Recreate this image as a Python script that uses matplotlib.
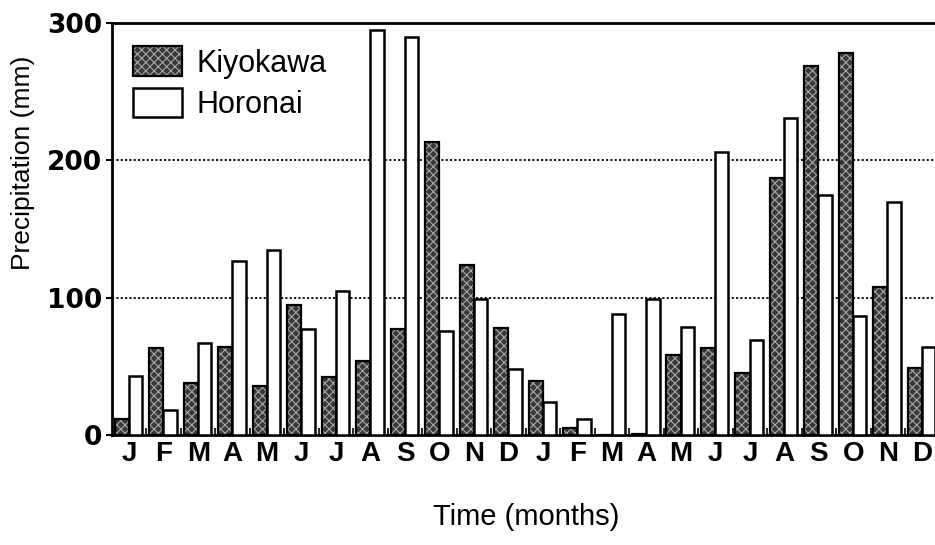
import numpy as np
import matplotlib
matplotlib.use("Agg")
import matplotlib.pyplot as plt
from matplotlib.patches import Patch
from matplotlib.legend_handler import HandlerTuple

# monthly precipitation (mm), two years
months = ['J', 'F', 'M', 'A', 'M', 'J', 'J', 'A', 'S', 'O', 'N', 'D',
          'J', 'F', 'M', 'A', 'M', 'J', 'J', 'A', 'S', 'O', 'N', 'D']
kiyokawa = [12, 63, 38, 64, 36, 95, 42, 54, 77, 213, 124, 78,
            39, 5, 0, 1, 58, 63, 45, 187, 269, 278, 108, 49]
horonai = [43, 18, 67, 127, 135, 77, 105, 295, 290, 76, 99, 48,
           24, 12, 88, 99, 79, 206, 69, 231, 175, 87, 170, 64]
yticks = [0, 100, 200, 300]

plt.rcParams['font.family'] = ['Liberation Sans', 'DejaVu Sans']
plt.rcParams['hatch.linewidth'] = 0.8

fig = plt.figure(figsize=(9.35, 5.45), dpi=100)
ax = fig.add_axes([0.1198, 0.2018, 0.885, 0.756])

x = np.arange(len(months))
dark = '#383838'
speck = '#a8a8a8'

# dark hatched bars: texture first, black outline on top
ax.bar(x + 0.08, kiyokawa, width=0.41, align='edge', color=dark,
       edgecolor=speck, hatch='xxxx', linewidth=0, zorder=2)
ax.bar(x + 0.08, kiyokawa, width=0.41, align='edge', fill=False,
       edgecolor='black', linewidth=1.6, zorder=3)
ax.bar(x + 0.49, horonai, width=0.39, align='edge', color='white',
       edgecolor='black', linewidth=1.8, zorder=3)

ax.set_xlim(0, 24)
ax.set_ylim(0, 300)

for y in [100, 200]:
    ax.axhline(y, color='black', linestyle=(0, (1.2, 1.2)), linewidth=1.3, zorder=1)

ax.set_xticks(x + 0.5)
ax.set_xticklabels(months, fontsize=20, fontweight='bold')
ax.set_xticks(np.arange(1, 24), minor=True)
ax.tick_params(axis='x', which='major', length=0, pad=4)
ax.tick_params(axis='x', which='minor', direction='in', length=5, width=1.2)

ax.set_yticks(yticks)
ax.set_yticklabels([str(v) for v in yticks], fontsize=19, fontweight='bold',
                   family='DejaVu Sans')
ax.tick_params(axis='y', direction='out', length=4, width=1.5, pad=3)

for s in ['left', 'bottom', 'top']:
    ax.spines[s].set_linewidth(2)
ax.spines['right'].set_visible(False)

ax.set_xlabel('Time (months)', fontsize=21, labelpad=26)
ax.set_ylabel('Precipitation (mm)', fontsize=19)
ax.yaxis.set_label_coords(-0.093, 0.66)

h_kiyo = (Patch(facecolor=dark, edgecolor=speck, hatch='xxxx', linewidth=0),
          Patch(fill=False, edgecolor='black', linewidth=1.6))
h_horo = Patch(facecolor='white', edgecolor='black', linewidth=1.8)
ax.legend([h_kiyo, h_horo], ['Kiyokawa', 'Horonai'],
          handler_map={tuple: HandlerTuple(ndivide=1, pad=0)},
          loc='upper left', bbox_to_anchor=(0.0, 0.995), frameon=False,
          fontsize=22, handlelength=1.6, handleheight=1.1,
          handletextpad=0.45, labelspacing=0.3, borderaxespad=0.3)

fig.savefig('out.png', dpi=100)
